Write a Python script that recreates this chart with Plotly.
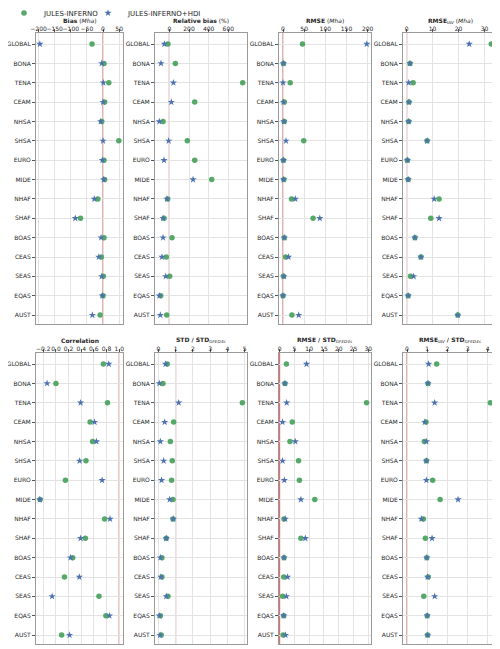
"""Regional evaluation metrics: JULES-INFERNO vs JULES-INFERNO+HDI dot plots."""

import plotly.graph_objects as go
from plotly.subplots import make_subplots

REGIONS = ["GLOBAL", "BONA", "TENA", "CEAM", "NHSA", "SHSA", "EURO", "MIDE",
           "NHAF", "SHAF", "BOAS", "CEAS", "SEAS", "EQAS", "AUST"]

# (green) JULES-INFERNO / (blue) JULES-INFERNO+HDI
BIAS_INF = [-34, 3, 18, 5, -4, 49, 3, 5, -16, -70, 3, -5, 1, 0, -9]
BIAS_HDI = [-196, -4, 1, 0, -7, 0, -2, 2, -27, -86, -6, -13, -4, -2, -33]

RELBIAS_INF = [-14, 61, 746, 258, -64, 183, 258, 431, -17, -54, 27, -31, 3, -88, -27]
RELBIAS_HDI = [-51, -85, 41, 20, -102, -7, -54, 241, -24, -64, -64, -75, -37, -102, -92]

RMSE_INF = [46, 1, 17, 3, 3, 49, 1, 2, 20, 71, 3, 6, 1, 0, 21]
RMSE_HDI = [198, 1, 0, 1, 2, 7, 1, 1.5, 29, 87, 3, 13, 2, 0, 37]

RMSEIAV_INF = [32.6, 1.3, 2.5, 0.9, 0.8, 7.9, 0.3, 0.6, 12.5, 9.3, 3.2, 5.5, 1.5, 0.6, 19.7]
RMSEIAV_HDI = [24.1, 1.3, 0.8, 0.9, 0.8, 7.9, 0.3, 0.6, 10.6, 12.5, 3.2, 5.5, 2.7, 0.6, 19.7]

CORR_INF = [0.75, 0.0, 0.815, 0.54, 0.58, 0.475, 0.15, -0.25, 0.77, 0.465, 0.265, 0.135, 0.68, 0.79, 0.09]
CORR_HDI = [0.835, -0.14, 0.39, 0.61, 0.64, 0.375, 0.73, -0.255, 0.855, 0.39, 0.23, 0.37, -0.06, 0.845, 0.215]

STD_INF = [0.52, 0.27, 4.86, 0.89, 0.70, 0.81, 0.77, 0.85, 0.85, 0.46, 0.21, 0.21, 0.56, 0.12, 0.17]
STD_HDI = [0.42, 0.06, 1.18, 0.37, 0.12, 0.31, 0.19, 0.66, 0.87, 0.46, 0.12, 0.15, 0.46, 0.06, 0.10]

RMSESTD_INF = [2.3, 1.8, 29.4, 4.3, 3.5, 6.4, 6.7, 11.9, 1.5, 7.2, 1.5, 1.4, 1.0, 1.4, 1.2]
RMSESTD_HDI = [9.1, 1.8, 2.4, 1.0, 5.3, 1.0, 1.6, 7.2, 1.9, 8.7, 1.5, 2.7, 2.3, 1.4, 2.0]

RMSEIAVSTD_INF = [1.47, 1.04, 4.13, 0.94, 0.86, 0.96, 1.27, 1.64, 0.81, 0.91, 0.98, 1.05, 0.83, 1.0, 1.02]
RMSEIAVSTD_HDI = [1.07, 1.04, 1.37, 0.88, 0.96, 0.96, 0.96, 2.53, 0.71, 1.24, 0.98, 1.02, 1.37, 1.0, 1.02]

SUB_IAV = "<sub><i>IAV</i></sub>"
SUB_GFED = "<sub><i>GFED4s</i></sub>"

PANELS = [
    ("<b>Bias</b> (<i>Mha</i>)", BIAS_INF, BIAS_HDI, [-208, 62], 50, None, 0),
    ("<b>Relative bias</b> (%)", RELBIAS_INF, RELBIAS_HDI, [-146, 790], 200, None, 0),
    ("<b>RMSE</b> (<i>Mha</i>)", RMSE_INF, RMSE_HDI, [-9.5, 208], 50, None, 0),
    ("<b>RMSE</b>" + SUB_IAV + " (<i>Mha</i>)", RMSEIAV_INF, RMSEIAV_HDI, [-1.4, 34.8], 10, None, 0),
    ("<b>Correlation</b>", CORR_INF, CORR_HDI, [-0.315, 1.06], 0.2, ".1f", 1),
    ("<b>STD / STD</b>" + SUB_GFED, STD_INF, STD_HDI, [-0.19, 5.13], 1, None, 1),
    ("<b>RMSE / STD</b>" + SUB_GFED, RMSESTD_INF, RMSESTD_HDI, [-0.2, 30.9], 5, None, 0),
    ("<b>RMSE</b>" + SUB_IAV + "<b> / STD</b>" + SUB_GFED, RMSEIAVSTD_INF, RMSEIAVSTD_HDI,
     [-0.2, 4.46], 1, None, 0),
]

# the page body adds an 8 px margin, so the figure is 8 px smaller on each axis
W, H = 492, 641
COL_PX = [(28, 115), (147, 239), (271, 363), (395, 489)]
ROW_PX = [(25, 316), (345, 636)]
TITLE_Y = [13, 332]

GREEN = "#55a868"
BLUE = "#4c72b0"
REDLINE = "#e07070"
TEXT = "#262626"

fig = make_subplots(rows=2, cols=4)

for k, (title, inf, hdi, xr, dtick, fmt, ref) in enumerate(PANELS):
    row, col = k // 4 + 1, k % 4 + 1
    fig.add_trace(go.Scatter(
        x=inf, y=REGIONS, mode="markers", name="JULES-INFERNO",
        marker=dict(color=GREEN, size=5.5, symbol="circle"),
        showlegend=(k == 0), legend="legend",
    ), row=row, col=col)
    fig.add_trace(go.Scatter(
        x=hdi, y=REGIONS, mode="markers", name="JULES-INFERNO+HDI",
        marker=dict(color=BLUE, size=5.5, symbol="star"),
        showlegend=(k == 0), legend="legend2",
    ), row=row, col=col)
    fig.add_vline(x=ref, line_color=REDLINE, line_width=1.2, row=row, col=col, layer="below")

    x0, x1 = COL_PX[col - 1]
    y0, y1 = ROW_PX[row - 1]
    fig.update_xaxes(
        domain=[x0 / W, x1 / W], range=xr, dtick=dtick, tick0=0, side="top",
        tickformat=fmt, tickangle=0, ticks="outside", ticklen=3, tickcolor="#555",
        ticklabelstandoff=-4,
        showgrid=True, gridcolor="#e3e3e3", gridwidth=1, zeroline=False,
        showline=True, mirror=True, linecolor="#9a9a9a", linewidth=1,
        tickfont=dict(size=6, color=TEXT), automargin=False,
        row=row, col=col,
    )
    fig.update_yaxes(
        domain=[1 - y1 / H, 1 - y0 / H], categoryorder="array", categoryarray=REGIONS,
        range=[14.46, -0.57], ticks="outside", ticklen=3, tickcolor="#555",
        showgrid=True, gridcolor="#e3e3e3", gridwidth=1, zeroline=False,
        showline=True, mirror=True, linecolor="#9a9a9a", linewidth=1,
        tickfont=dict(size=6, color=TEXT), automargin=False,
        row=row, col=col,
    )
    fig.add_annotation(
        text=title, xref="x domain" if k == 0 else f"x{k + 1} domain", x=0.5,
        yref="paper", y=1 - TITLE_Y[row - 1] / H, xanchor="center", yanchor="middle",
        showarrow=False, font=dict(size=6, color=TEXT),
    )

legend_style = dict(orientation="h", yanchor="middle", y=1 - 5 / H, xanchor="left",
                    font=dict(size=7, color=TEXT), itemwidth=30, bgcolor="rgba(0,0,0,0)")
fig.update_layout(
    width=W, height=H,
    margin=dict(l=0, r=0, t=0, b=0, autoexpand=False),
    plot_bgcolor="white", paper_bgcolor="white",
    font=dict(family="DejaVu Sans", color=TEXT),
    legend=dict(x=-4 / W, **legend_style),
    legend2=dict(x=80 / W, **legend_style),
)

fig.write_html("out.html")
